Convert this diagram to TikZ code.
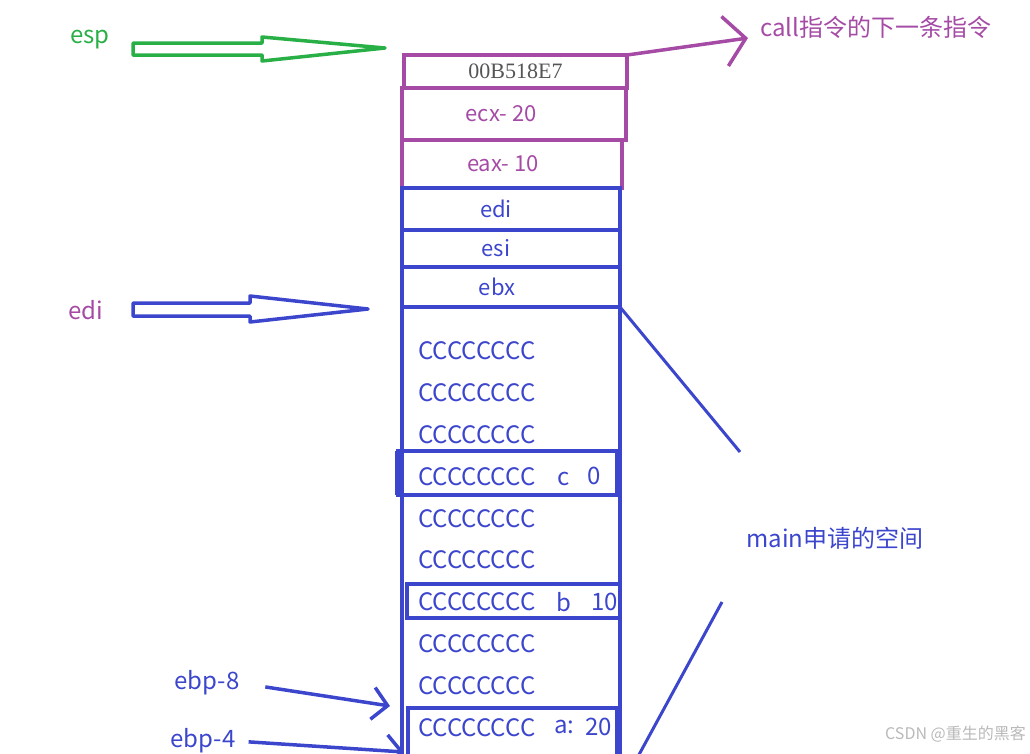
\documentclass[tikz,border=0pt]{standalone}
\usepackage{fontspec}
\setmainfont{Noto Sans CJK SC}
\newfontfamily\addrfont{Liberation Serif}
\usetikzlibrary{arrows.meta,calc}

\definecolor{stackpurple}{RGB}{165,75,165}
\definecolor{stackblue}{RGB}{60,70,205}
\definecolor{espgreen}{RGB}{40,175,70}
\definecolor{addrgray}{RGB}{85,85,85}
\definecolor{markgray}{RGB}{185,185,185}

\begin{document}
\begin{tikzpicture}[
    x=1pt, y=-1pt,
    font=\fontsize{22}{26}\selectfont,
    pbox/.style={rectangle, draw=stackpurple, line width=3.5pt, anchor=north west, inner sep=0pt, outer sep=0pt, text=stackpurple},
    bbox/.style={rectangle, draw=stackblue, line width=3.5pt, anchor=north west, inner sep=0pt, outer sep=0pt, text=stackblue},
    cell/.style={anchor=west, inner sep=0pt, text=stackblue, font=\fontsize{24}{28}\selectfont},
    tag/.style={inner sep=0pt, font=\fontsize{24}{28}\selectfont},
    hollow/.style={line width=3.5pt, line join=round},
    parrow/.style={-{Straight Barb[length=21pt, width=50pt]}, line width=3.5pt, stackpurple},
    barrow/.style={-{Straight Barb[length=15pt, width=32pt]}, line width=3.5pt, stackblue},
    bline/.style={line width=3pt, stackblue}
]
\useasboundingbox (0,0) rectangle (1030,753);
\clip (0,0) rectangle (1030,753);

% Stack frame of main
\node[bbox, minimum width=218pt, minimum height=480pt] (frame) at (402,307) {};
\node[bbox, minimum width=219pt, minimum height=44pt] (cbox) at (398,451) {};
\draw[stackblue, line width=6pt] (cbox.north west) -- (cbox.south west);
\node[bbox, minimum width=213pt, minimum height=34pt] (bbox) at (407,584) {};
\node[bbox, minimum width=209pt, minimum height=60pt] (abox) at (408,708) {};

% Saved registers and return address
\node[pbox, minimum width=223pt, minimum height=33pt, text=addrgray, font=\addrfont\fontsize{22}{26}\selectfont] (ret) at (404,55) {00B518E7};
\node[pbox, minimum width=224pt, minimum height=52pt] (ecx) at (402,88) {ecx- 20\hspace*{26pt}};
\node[pbox, minimum width=220pt, minimum height=48pt] (eax) at (402,140) {eax- 10\hspace*{18pt}};
\node[bbox, minimum width=218pt, minimum height=42pt] (edi) at (402,188) {edi\hspace*{30pt}};
\node[bbox, minimum width=218pt, minimum height=37pt] (esi) at (402,230) {esi\hspace*{30pt}};
\node[bbox, minimum width=218pt, minimum height=40pt] (ebx) at (402,267) {ebx\hspace*{28pt}};

% Rows filled with 0xCC
\foreach \i in {0,...,9}
    \node[cell] (row\i) at (418,351+41.8*\i) {CCCCCCCC};

% Local variables
\node[cell] (cname) at (557,479) {c};
\node[cell] (cval) at (587,476) {0};
\node[cell] (bname) at (556,602) {b};
\node[cell] (bval) at (591,602) {10};
\node[cell] (aname) at (554,727) {a:};
\node[cell] (aval) at (585,727) {20};

% Pointer labels
\node[tag, text=espgreen] (esp) at (90,40) {esp};
\node[tag, text=stackpurple] (edilabel) at (86,310) {edi};
\node[tag, text=stackpurple] (call) at (876,27) {call指令的下一条指令};
\node[tag, text=stackblue] (ebp8) at (207,683) {ebp-8};
\node[tag, text=stackblue] (ebp4) at (203,741) {ebp-4};
\node[tag, text=stackblue] (space) at (835,538) {main申请的空间};
\node[inner sep=0pt, anchor=east, text=markgray, font=\fontsize{16}{19}\selectfont] (mark) at (1026,734) {CSDN @重生的黑客};

% Hollow arrows
\coordinate (espTip) at (385,48);
\coordinate (ediTip) at (368,309);
\draw[hollow, espgreen] (133,43) -- (262,43) -- (262,37) -- (espTip) -- (262,61) -- (262,55) -- (133,55) -- cycle;
\draw[hollow, stackblue] (133,303) -- (250,303) -- (250,296) -- (ediTip) -- (250,322) -- (250,316) -- (133,316) -- cycle;

% Line arrows
\coordinate (callTip) at (748,38);
\draw[parrow] (ret.north east) -- (callTip);
\coordinate (ebp8Tip) at (390,706);
\draw[barrow, shorten <=26pt] (ebp8.east) -- (ebp8Tip);
\coordinate (ebp4Tip) at (404,752);
\draw[barrow, shorten <=13pt] (ebp4.east) -- (ebp4Tip);

% Lines to the space label
\coordinate (braceTop) at (740,452);
\coordinate (braceMid) at (722,602);
\coordinate (braceEnd) at (635,762);
\draw[bline] (ebx.south east) -- (braceTop);
\draw[bline] (braceMid) -- (braceEnd);

\end{tikzpicture}
\end{document}
